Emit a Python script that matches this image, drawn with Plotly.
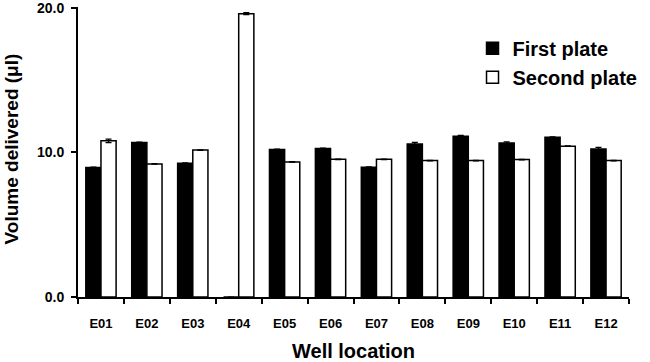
import plotly.graph_objects as go

wells = ["E01", "E02", "E03", "E04", "E05", "E06", "E07", "E08", "E09", "E10", "E11", "E12"]
first_plate = [8.95, 10.68, 9.25, 0.0, 10.2, 10.27, 8.97, 10.57, 11.12, 10.64, 11.05, 10.23]
first_err = [0.03, 0.03, 0.03, 0.0, 0.03, 0.03, 0.03, 0.12, 0.05, 0.08, 0.03, 0.12]
second_plate = [10.8, 9.2, 10.16, 19.59, 9.34, 9.52, 9.52, 9.43, 9.43, 9.5, 10.43, 9.43]
second_err = [0.12, 0.02, 0.02, 0.07, 0.02, 0.02, 0.02, 0.02, 0.02, 0.02, 0.02, 0.02]
y_tick_step = 10

FONT = "Liberation Sans, Arial, sans-serif"

fig = go.Figure()
fig.add_trace(go.Bar(
    x=wells, y=first_plate, name="First plate", legendgroup="a",
    marker=dict(color="black", line=dict(color="black", width=1.5)),
    error_y=dict(type="data", array=first_err, visible=True, color="black", thickness=1.2, width=3),
))
fig.add_trace(go.Bar(
    x=wells, y=second_plate, name="Second plate", legendgroup="b",
    marker=dict(color="white", line=dict(color="black", width=1.5)),
    error_y=dict(type="data", array=second_err, visible=True, color="black", thickness=1.2, width=3),
))

fig.update_layout(
    width=650, height=362,
    margin=dict(l=78, r=21, t=7, b=65, autoexpand=False),
    paper_bgcolor="white", plot_bgcolor="white",
    barmode="group", bargap=0.34, bargroupgap=0.0,
    font=dict(family=FONT, color="black", weight="bold"),
    showlegend=True,
    legend=dict(
        x=0.716, y=0.925, xanchor="left", yanchor="top",
        font=dict(family=FONT, size=20, color="black", weight="bold"),
        bgcolor="rgba(0,0,0,0)", itemwidth=30, traceorder="grouped", tracegroupgap=0,
    ),
    annotations=[dict(
        text="Volume delivered (μl)", textangle=-90,
        xref="paper", yref="paper", x=-0.121, y=0.51,
        xanchor="center", yanchor="middle", showarrow=False,
        font=dict(family=FONT, size=19, color="black", weight="bold"),
    )],
)
fig.update_xaxes(
    type="category", tickson="boundaries", automargin=False,
    showline=True, linecolor="black", linewidth=2,
    ticks="outside", ticklen=5, tickwidth=2, tickcolor="black",
    tickfont=dict(family=FONT, size=13, color="black", weight="bold"),
    ticklabelstandoff=13,
    title=dict(text="Well location", font=dict(family=FONT, size=20, color="black", weight="bold"), standoff=16),
    showgrid=False,
)
fig.update_yaxes(
    range=[0, 20.05], tickmode="linear", tick0=0, dtick=y_tick_step, tickformat=".1f",
    automargin=False, ticklabeloverflow="allow",
    showline=True, linecolor="black", linewidth=2,
    ticks="outside", ticklen=5, tickwidth=2, tickcolor="black",
    tickfont=dict(family=FONT, size=14, color="black", weight="bold"),
    ticklabelstandoff=4,
    showgrid=False, zeroline=False,
)

fig.write_html("out.html", config={"displayModeBar": False},
               post_script="document.body.style.margin='0';")
